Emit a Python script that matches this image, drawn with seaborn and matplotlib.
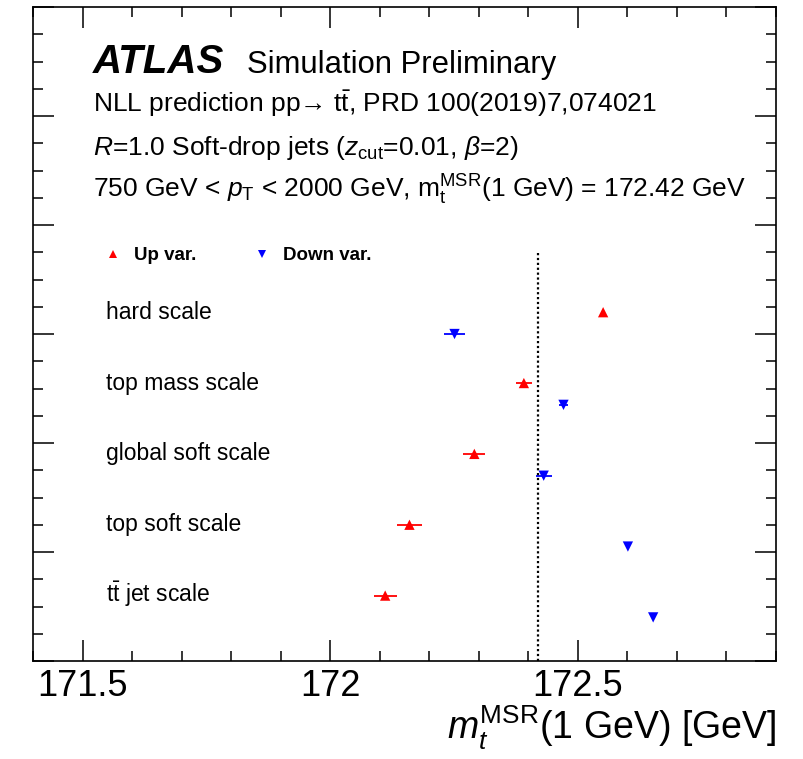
import numpy as np
import pandas as pd
import matplotlib
matplotlib.use("Agg")
import matplotlib.pyplot as plt
import seaborn as sns
from matplotlib.ticker import MultipleLocator

# values
categories = ["hard scale", "top mass scale", "global soft scale",
              "top soft scale", r"t$\bar{\rm t}$ jet scale"]
up_mass = [172.551, 172.391, 172.291, 172.160, 172.111]
up_err = [0.0, 0.016, 0.022, 0.025, 0.023]
down_mass = [172.251, 172.471, 172.431, 172.601, 172.652]
down_err = [0.022, 0.010, 0.016, 0.0, 0.0]
nominal = 172.42

sns.set_style("ticks")
plt.rcParams["font.family"] = ["Liberation Sans", "DejaVu Sans"]
plt.rcParams["mathtext.fontset"] = "custom"
plt.rcParams["mathtext.rm"] = "Liberation Sans"
plt.rcParams["mathtext.it"] = "Liberation Sans:italic"
plt.rcParams["mathtext.bf"] = "Liberation Sans:bold"
for k in ["text.color", "axes.labelcolor", "xtick.color", "ytick.color", "axes.edgecolor"]:
    plt.rcParams[k] = "black"

# layout: one row per category, up var. slightly above down var.
pos_up = [3.2 - 0.65 * i for i in range(len(categories))]
pos_down = [p - 0.2 for p in pos_up]

df = pd.DataFrame({
    "mass": up_mass + down_mass,
    "err": up_err + down_err,
    "pos": pos_up + pos_down,
    "var": ["Up var."] * len(up_mass) + ["Down var."] * len(down_mass),
})
colors = {"Up var.": "#ff0000", "Down var.": "#0000ff"}

fig = plt.figure(figsize=(8.04, 7.59), dpi=100)
ax = fig.add_axes([33 / 804, 98 / 759, 743 / 804, 654 / 759])

for var, grp in df.groupby("var"):
    ax.errorbar(grp["mass"], grp["pos"], xerr=grp["err"], fmt="none",
                ecolor=colors[var], elinewidth=1.3, capsize=0, zorder=2)

sns.scatterplot(data=df, x="mass", y="pos", hue="var", style="var",
                markers={"Up var.": "^", "Down var.": "v"},
                palette=colors, s=55, linewidth=0, ax=ax, zorder=3)

ax.vlines(nominal, 0, 3.75, colors="black", linestyles=(0, (1, 1.2)), lw=1.6)

ax.set_xlim(171.4, 172.9)
ax.set_ylim(0, 6)
ax.xaxis.set_major_locator(MultipleLocator(0.5))
ax.xaxis.set_minor_locator(MultipleLocator(0.1))
ax.yaxis.set_major_locator(MultipleLocator(1))
ax.yaxis.set_minor_locator(MultipleLocator(0.25))
ax.xaxis.set_major_formatter(plt.FuncFormatter(lambda v, p: f"{v:g}"))
ax.tick_params(which="both", direction="in", top=True, right=True,
               labelleft=False, width=1.1, color="black")
ax.tick_params(which="major", length=15, labelsize=26, pad=6)
ax.tick_params(which="minor", length=7.5)
for sp in ax.spines.values():
    sp.set_linewidth(1.2)

ax.set_ylabel("")
ax.set_xlabel(r"$m_t^{\rm MSR}$(1 GeV) [GeV]", fontsize=27, loc="right", labelpad=0)

handles, labels = ax.get_legend_handles_labels()
ax.legend(handles, labels, ncol=2, frameon=False, loc="center left",
          bbox_to_anchor=(0.073, 0.62), markerscale=0.8,
          prop={"weight": "bold", "size": 13.5},
          handlelength=1.0, handletextpad=0.6, columnspacing=3.0)

for cat, p in zip(categories, pos_up):
    ax.text(171.547, p - 0.06, cat, fontsize=16.5, va="baseline", ha="left")

x0 = 93 / 804
fig.text(x0, 1 - 73 / 759, "ATLAS", fontsize=29, fontweight="bold",
         fontstyle="italic", va="baseline")
fig.text(247 / 804, 1 - 73 / 759, "Simulation Preliminary", fontsize=22.3,
         va="baseline")
fig.text(x0, 1 - 112 / 759,
         r"NLL prediction pp→ t$\bar{\rm t}$, PRD 100(2019)7,074021",
         fontsize=19, va="baseline")
fig.text(x0, 1 - 155 / 759,
         r"$R$=1.0 Soft-drop jets ($z_{\rm cut}$=0.01, $\beta$=2)",
         fontsize=19, va="baseline")
fig.text(x0, 1 - 198 / 759,
         r"750 GeV < $p_{\rm T}$ < 2000 GeV, m$_{\rm t}^{\rm MSR}$(1 GeV) = 172.42 GeV",
         fontsize=19, va="baseline")

fig.savefig("out.png", dpi=100)
